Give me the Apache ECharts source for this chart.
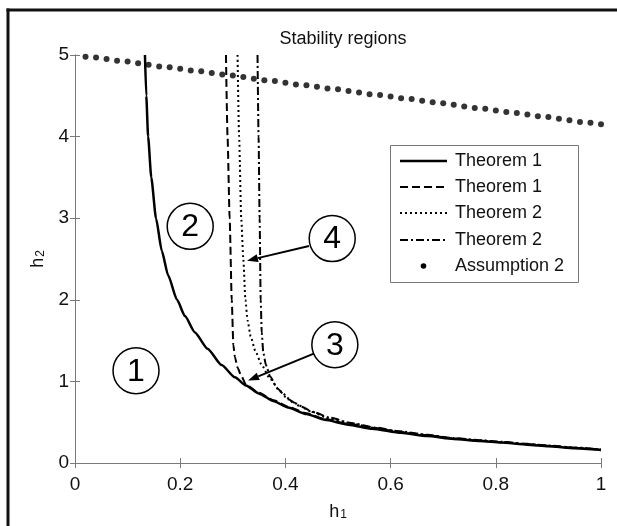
<!DOCTYPE html>
<html>
<head>
<meta charset="utf-8">
<script src="https://cdn.jsdelivr.net/npm/echarts@6/dist/echarts.min.js"></script>
<style>
html,body{margin:0;padding:0;background:#fff;}
#chart{width:617px;height:526px;}
</style>
</head>
<body>
<div id="chart"></div>
<script>
// ---- data ----
const xTicks = [0, 0.2, 0.4, 0.6, 0.8, 1];
const yTicks = [0, 1, 2, 3, 4, 5];

const thm1SolidH1 = [0.133,0.1355,0.139,0.145,0.154,0.165,0.177,0.194,0.209,0.228,0.252,0.279,0.304,0.325,0.350,0.377,0.405,0.440,0.475,0.520,0.565,0.620,0.670,0.720,0.770,0.810,0.860,0.900,0.950,1.000];
const thm1SolidH2 = [5.00,4.50,4.00,3.50,3.00,2.60,2.30,2.00,1.80,1.60,1.40,1.20,1.05,0.95,0.85,0.76,0.68,0.60,0.53,0.47,0.42,0.37,0.33,0.295,0.27,0.25,0.225,0.205,0.18,0.16];

const thm1DashH1 = [0.287,0.290,0.294,0.298,0.301,0.304,0.309,0.316,0.325,0.350,0.377,0.405,0.440,0.475,0.520,0.565,0.620,0.670,0.720,0.770,0.810,0.860,0.900,0.950,1.000];
const thm1DashH2 = [5.00,4.00,3.00,2.00,1.45,1.30,1.17,1.07,0.96,0.86,0.77,0.69,0.61,0.54,0.48,0.43,0.38,0.34,0.30,0.275,0.255,0.23,0.21,0.185,0.163];

const thm2DotH1 = [0.309,0.312,0.316,0.320,0.324,0.328,0.334,0.343,0.355,0.370,0.390,0.415,0.450,0.480,0.525,0.570,0.615,0.670,0.720,0.770,0.810,0.860,0.900,0.950,1.000];
const thm2DotH2 = [5.00,4.00,3.00,2.50,2.00,1.75,1.55,1.37,1.20,1.04,0.88,0.74,0.63,0.55,0.485,0.43,0.385,0.34,0.30,0.275,0.255,0.23,0.21,0.185,0.163];

const thm2DashDotH1 = [0.347,0.349,0.351,0.353,0.355,0.358,0.363,0.371,0.385,0.405,0.430,0.455,0.485,0.525,0.570,0.615,0.670,0.720,0.770,0.810,0.860,0.900,0.950,1.000];
const thm2DashDotH2 = [5.00,4.00,3.00,2.00,1.60,1.35,1.20,1.06,0.91,0.78,0.69,0.62,0.555,0.49,0.435,0.39,0.345,0.305,0.28,0.26,0.235,0.215,0.19,0.167];

const assumpH1 = [0.02,0.04,0.06,0.08,0.10,0.12,0.14,0.16,0.18,0.20,0.22,0.24,0.26,0.28,0.30,0.32,0.34,0.36,0.38,0.40,0.42,0.44,0.46,0.48,0.50,0.52,0.54,0.56,0.58,0.60,0.62,0.64,0.66,0.68,0.70,0.72,0.74,0.76,0.78,0.80,0.82,0.84,0.86,0.88,0.90,0.92,0.94,0.96,0.98,1.00];
const assumpH2 = [4.98,4.97,4.95,4.93,4.92,4.90,4.88,4.86,4.85,4.83,4.81,4.80,4.78,4.76,4.75,4.73,4.71,4.69,4.68,4.66,4.64,4.63,4.61,4.59,4.58,4.56,4.54,4.52,4.51,4.49,4.47,4.46,4.44,4.42,4.41,4.39,4.37,4.35,4.34,4.32,4.30,4.29,4.27,4.25,4.24,4.22,4.20,4.18,4.17,4.15];

const legendNames = ['Theorem 1','Theorem 1','Theorem 2','Theorem 2','Assumption 2'];
// region labels (data coords) and arrows
const regionLabels = ['1','2','3','4'];
const regionH1 = [0.116,0.219,0.494,0.489];
const regionH2 = [1.13,2.90,1.45,2.75];
const arrowFromH1 = [0.454,0.445];
const arrowFromH2 = [1.34,2.66];
const arrowToH1 = [0.329,0.327];
const arrowToH2 = [1.01,2.48];

function pairs(a,b){ return a.map((v,i)=>[v,b[i]]); }

const FONT = '"Liberation Sans", Arial, sans-serif';
const AX = '#7a7a7a';
const TXT = '#111';

const chart = echarts.init(document.getElementById('chart'), null, {renderer:'canvas'});

const axisCommon = {
  type:'value',
  axisLine:{show:true,lineStyle:{color:AX,width:1}},
  axisTick:{show:true,inside:true,length:5,lineStyle:{color:AX}},
  splitLine:{show:false}
};
const subRich = {
  b:{fontFamily:FONT,fontSize:18,color:TXT,verticalAlign:'bottom'},
  s:{fontFamily:FONT,fontSize:12,color:TXT,padding:[8,0,0,1],verticalAlign:'bottom'}
};
const lineCommon = {type:'line', showSymbol:false, symbol:'none', smooth:0.2, smoothMonotone:'x'};

const option = {
  animation:false,
  backgroundColor:'#fff',
  title:{
    text:'Stability regions', left:338, top:25, textAlign:'center',
    textStyle:{fontFamily:FONT,fontSize:18,fontWeight:'normal',color:TXT}
  },
  grid:{left:75,right:16,top:55,bottom:60,containLabel:false},
  xAxis:[
    Object.assign({}, axisCommon, {
      min:xTicks[0], max:xTicks[xTicks.length-1], interval:xTicks[1]-xTicks[0], position:'bottom',
      axisLabel:{fontFamily:FONT,fontSize:19,color:TXT,margin:12},
      name:'{b|h}{s|1}', nameLocation:'middle', nameGap:38,
      nameTextStyle:{fontFamily:FONT,color:TXT,rich:subRich}
    }),
    Object.assign({}, axisCommon, {
      min:xTicks[0], max:xTicks[xTicks.length-1], interval:xTicks[1]-xTicks[0], position:'top',
      axisLabel:{show:false}
    })
  ],
  yAxis:[
    Object.assign({}, axisCommon, {
      min:yTicks[0], max:yTicks[yTicks.length-1], interval:yTicks[1]-yTicks[0], position:'left',
      axisLabel:{fontFamily:FONT,fontSize:19,color:TXT,margin:6},
      name:'{b|h}{s|2}', nameLocation:'middle', nameGap:28, nameRotate:90,
      nameTextStyle:{fontFamily:FONT,color:TXT,rich:subRich}
    }),
    Object.assign({}, axisCommon, {
      min:yTicks[0], max:yTicks[yTicks.length-1], interval:yTicks[1]-yTicks[0], position:'right',
      axisLabel:{show:false}
    })
  ],
  series:[
    {name:legendNames[4], type:'scatter', data:pairs(assumpH1,assumpH2), symbol:'circle', symbolSize:6,
     itemStyle:{color:'#000'}, z:3, clip:false},
    Object.assign({}, lineCommon, {name:legendNames[1], data:pairs(thm1DashH1,thm1DashH2),
     lineStyle:{color:'#000',width:2,type:[8,4]}, z:4}),
    Object.assign({}, lineCommon, {name:legendNames[2], data:pairs(thm2DotH1,thm2DotH2),
     lineStyle:{color:'#000',width:2,type:[2,3]}, z:4}),
    Object.assign({}, lineCommon, {name:legendNames[3], data:pairs(thm2DashDotH1,thm2DashDotH2),
     lineStyle:{color:'#000',width:2,type:[8,3,2,3]}, z:4}),
    Object.assign({}, lineCommon, {name:legendNames[0], data:pairs(thm1SolidH1,thm1SolidH2),
     lineStyle:{color:'#000',width:2.5}, z:5})
  ]
};
chart.setOption(option);

// ---- annotations and legend (graphic) ----
const g = [];
// outer figure frame (left and top edges visible)
g.push({type:'line', shape:{x1:8,y1:8.5,x2:8,y2:540}, style:{stroke:'#111',lineWidth:3}, z:100});
g.push({type:'line', shape:{x1:6.5,y1:10,x2:617,y2:10}, style:{stroke:'#111',lineWidth:3}, z:100});

regionLabels.forEach((lab,i)=>{
  const p = chart.convertToPixel({xAxisIndex:0,yAxisIndex:0},[regionH1[i],regionH2[i]]);
  g.push({type:'circle', shape:{cx:p[0],cy:p[1],r:23}, style:{stroke:'#000',lineWidth:1.5,fill:'#fff'}, z:50});
  g.push({type:'text', x:p[0], y:p[1]+1, style:{text:lab, fontFamily:FONT, fontSize:32, fill:'#000', align:'center', verticalAlign:'middle'}, z:51});
});
arrowFromH1.forEach((v,i)=>{
  const a = chart.convertToPixel({xAxisIndex:0,yAxisIndex:0},[arrowFromH1[i],arrowFromH2[i]]);
  const b = chart.convertToPixel({xAxisIndex:0,yAxisIndex:0},[arrowToH1[i],arrowToH2[i]]);
  const ang = Math.atan2(b[1]-a[1], b[0]-a[0]);
  const L = 11, W = 4;
  const bx = b[0]-L*Math.cos(ang), by = b[1]-L*Math.sin(ang);
  g.push({type:'line', shape:{x1:a[0],y1:a[1],x2:bx,y2:by}, style:{stroke:'#000',lineWidth:2}, z:50});
  g.push({type:'polygon', shape:{points:[[b[0],b[1]],[bx+W*Math.sin(ang),by-W*Math.cos(ang)],[bx-W*Math.sin(ang),by+W*Math.cos(ang)]]}, style:{fill:'#000'}, z:50});
});

// legend box
const LX = 390, LY = 145, LW = 188, LH = 137;
g.push({type:'rect', shape:{x:LX+0.5,y:LY+0.5,width:LW,height:LH}, style:{fill:'#fff',stroke:'#777',lineWidth:1}, z:60});
const rowY = [161,187,213,240,266];
const dashes = [null,[8,4],[2,3],[8,3,2,3]];
legendNames.forEach((nm,i)=>{
  const y = rowY[i];
  if(i<4){
    g.push({type:'line', shape:{x1:400,y1:y,x2:447,y2:y}, style:{stroke:'#000',lineWidth:i===0?2.5:2,lineDash:dashes[i]}, z:61});
  } else {
    g.push({type:'circle', shape:{cx:423.5,cy:y,r:2.8}, style:{fill:'#000'}, z:61});
  }
  g.push({type:'text', x:455, y:y, style:{text:nm, fontFamily:FONT, fontSize:18, fill:TXT, verticalAlign:'middle', align:'left'}, z:61});
});
chart.setOption({graphic:g});
</script>
</body>
</html>
